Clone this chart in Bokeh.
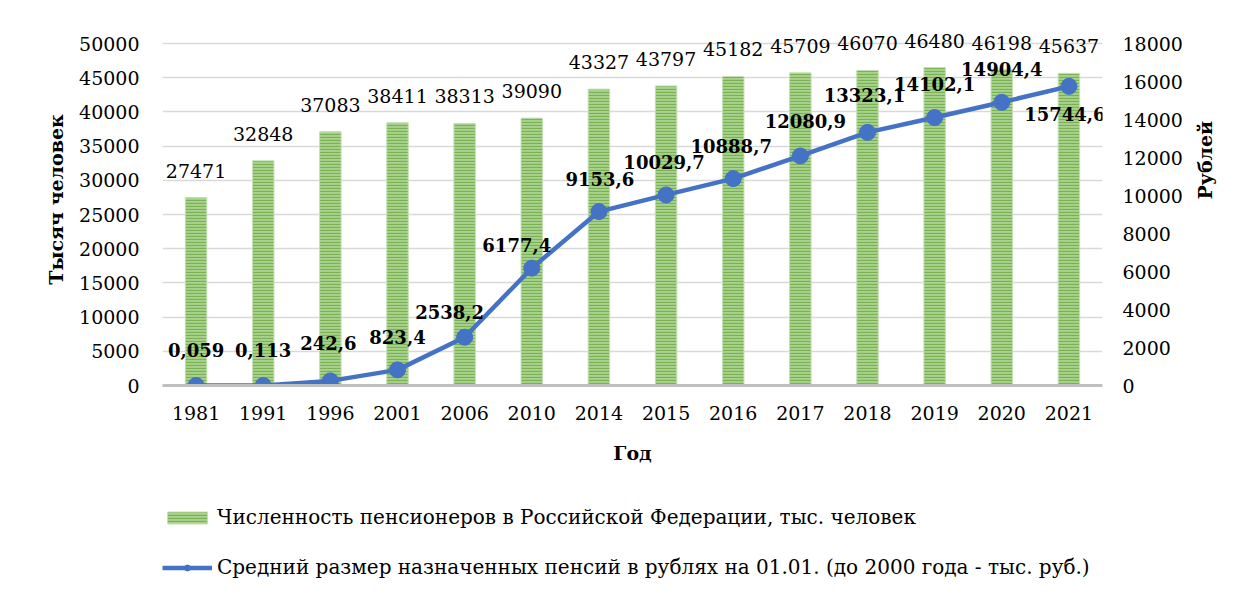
import math
from bokeh.plotting import figure
from bokeh.layouts import column
from bokeh.models import (FactorRange, Range1d, LinearAxis, FixedTicker, Legend,
                          LegendItem, ColumnDataSource)
from bokeh.embed import file_html
from bokeh.resources import INLINE
from bokeh.core.properties import value

years = ["1981", "1991", "1996", "2001", "2006", "2010", "2014", "2015",
         "2016", "2017", "2018", "2019", "2020", "2021"]
pensioners = [27471, 32848, 37083, 38411, 38313, 39090, 43327, 43797,
              45182, 45709, 46070, 46480, 46198, 45637]
pension = [0.059, 0.113, 242.6, 823.4, 2538.2, 6177.4, 9153.6, 10029.7,
           10888.7, 12080.9, 13323.1, 14102.1, 14904.4, 15744.6]
pension_labels = ["0,059", "0,113", "242,6", "823,4", "2538,2", "6177,4",
                  "9153,6", "10029,7", "10888,7", "12080,9", "13323,1",
                  "14102,1", "14904,4", "15744,6"]
left_ticks = [0, 5000, 10000, 15000, 20000, 25000, 30000, 35000, 40000, 45000, 50000]
right_ticks = [0, 2000, 4000, 6000, 8000, 10000, 12000, 14000, 16000, 18000]

legend_bar = "Численность пенсионеров в Российской Федерации, тыс. человек"
legend_line = "Средний размер назначенных пенсий в рублях на 01.01. (до 2000 года - тыс. руб.)"

# label placement (pixel offsets, style only)
lbl_dx = [0, 0, -2, 0, -15, -15, 1, -2, -2, 5, -3, 0, 0, -4]
lbl_dy = [-35, -35, -38, -33, -25, -23, -33, -33, -33, -35, -37, -34, -33, 28]

FONT = "DejaVu Serif"
FS = "19px"
FS_BOLD = "18px"
FS_LEG = "20px"

BAR_STYLE = dict(fill_color="#a9d18e", line_color="#c5e0b4", line_width=1,
                 hatch_pattern="horizontal_line", hatch_color="#70ad47",
                 hatch_scale=3, hatch_weight=1.2, hatch_alpha=0.85)
LINE_STYLE = dict(line_color="#4472c4", line_width=4.5)
DOT_STYLE = dict(size=16, fill_color="#4472c4", line_color="#4472c4")

src = ColumnDataSource(dict(
    year=years, n=pensioners, n_txt=[str(v) for v in pensioners],
    rub=pension, rub_txt=pension_labels, dx=lbl_dx, dy=lbl_dy))

W = 1229
H1 = 480
H2 = 110

p = figure(x_range=FactorRange(*years, range_padding=0),
           y_range=Range1d(0, 50000 * 372 / 342),
           width=W, height=H1, output_backend="svg", toolbar_location=None,
           min_border_left=162, min_border_right=W - 162 - 944,
           min_border_top=13, min_border_bottom=H1 - 13 - 372)
p.extra_y_ranges = {"rub": Range1d(0, 18000 * 372 / 342)}
p.outline_line_color = None
p.background_fill_color = "white"

bars = p.vbar(x="year", top="n", width=0.32, source=src, **BAR_STYLE)

p.text(x="year", y="n", text="n_txt", source=src, text_align="center",
       text_baseline="middle", y_offset=-27, text_font=value(FONT),
       text_font_size=FS, text_color="#000000")

line = p.line(x="year", y="rub", source=src, y_range_name="rub", **LINE_STYLE)
dots = p.scatter(x="year", y="rub", source=src, y_range_name="rub", **DOT_STYLE)

p.text(x="year", y="rub", text="rub_txt", source=src, y_range_name="rub",
       x_offset="dx", y_offset="dy", text_align="center", text_baseline="middle",
       text_font=value(FONT), text_font_size=FS_BOLD, text_font_style="bold",
       text_color="#000000")

# grid
p.xgrid.grid_line_color = None
p.ygrid.ticker = FixedTicker(ticks=left_ticks[1:])
p.ygrid.grid_line_color = "#d9d9d9"
p.ygrid.grid_line_width = 1.5

# axes
xa = p.xaxis[0]
xa.axis_line_color = "#bfbfbf"
xa.axis_line_width = 3
xa.major_tick_line_color = None
xa.minor_tick_line_color = None
xa.major_label_standoff = 14
xa.major_label_text_font = FONT
xa.major_label_text_font_size = FS
xa.major_label_text_color = "#000000"
xa.axis_label = "Год"
xa.axis_label_text_font = FONT
xa.axis_label_text_font_size = FS
xa.axis_label_text_font_style = "bold"
xa.axis_label_text_color = "#000000"
xa.axis_label_standoff = 19

ya = p.yaxis[0]
ya.ticker = FixedTicker(ticks=left_ticks)
ya.axis_line_color = None
ya.major_tick_line_color = None
ya.minor_tick_line_color = None
ya.major_label_standoff = 17
ya.major_label_text_font = FONT
ya.major_label_text_font_size = FS
ya.major_label_text_color = "#000000"
ya.axis_label = "Тысяч человек"
ya.axis_label_text_font = FONT
ya.axis_label_text_font_size = FS
ya.axis_label_text_font_style = "bold"
ya.axis_label_text_color = "#000000"
ya.axis_label_standoff = 9

ra = LinearAxis(y_range_name="rub", ticker=FixedTicker(ticks=right_ticks))
ra.axis_line_color = None
ra.major_tick_line_color = None
ra.minor_tick_line_color = None
ra.major_label_standoff = 14
ra.major_label_text_font = FONT
ra.major_label_text_font_size = FS
ra.major_label_text_color = "#000000"
ra.axis_label = "Рублей"
ra.axis_label_text_font = FONT
ra.axis_label_text_font_size = FS
ra.axis_label_text_font_style = "bold"
ra.axis_label_text_color = "#000000"
ra.axis_label_standoff = 19
try:
    ra.axis_label_orientation = math.pi / 2
except Exception:
    pass
p.add_layout(ra, "right")

# legend panel: separate figure beneath the chart holding only the legend;
# its renderers share the data but are hidden, so only legend swatches show
p2 = figure(x_range=FactorRange(*years, range_padding=0),
            y_range=Range1d(-200000, -100000), width=W, height=H2,
            output_backend="svg", toolbar_location=None,
            min_border_left=0, min_border_right=0, min_border_top=0,
            min_border_bottom=0)
p2.axis.visible = False
p2.grid.visible = False
p2.outline_line_color = None
lg_bar = p2.vbar(x="year", top="n", width=0.32, source=src, visible=False, **BAR_STYLE)
lg_line = p2.line(x="year", y="rub", source=src, visible=False, **LINE_STYLE)
lg_dot = p2.scatter(x="year", y="rub", source=src, visible=False, **DOT_STYLE)

legend = Legend(items=[LegendItem(label=legend_bar, renderers=[lg_bar]),
                       LegendItem(label=legend_line, renderers=[lg_line, lg_dot])],
                location=(0, 11), orientation="vertical",
                glyph_width=50, glyph_height=15, label_height=20,
                spacing=26, padding=0, margin=0, label_standoff=5,
                border_line_color=None, background_fill_alpha=0,
                inactive_fill_alpha=0,
                label_text_font=FONT, label_text_font_size=FS_LEG,
                label_text_color="#000000")
p2.add_layout(legend)

layout = column(p, p2, spacing=0)
open("out.html", "w").write(file_html(layout, INLINE))
